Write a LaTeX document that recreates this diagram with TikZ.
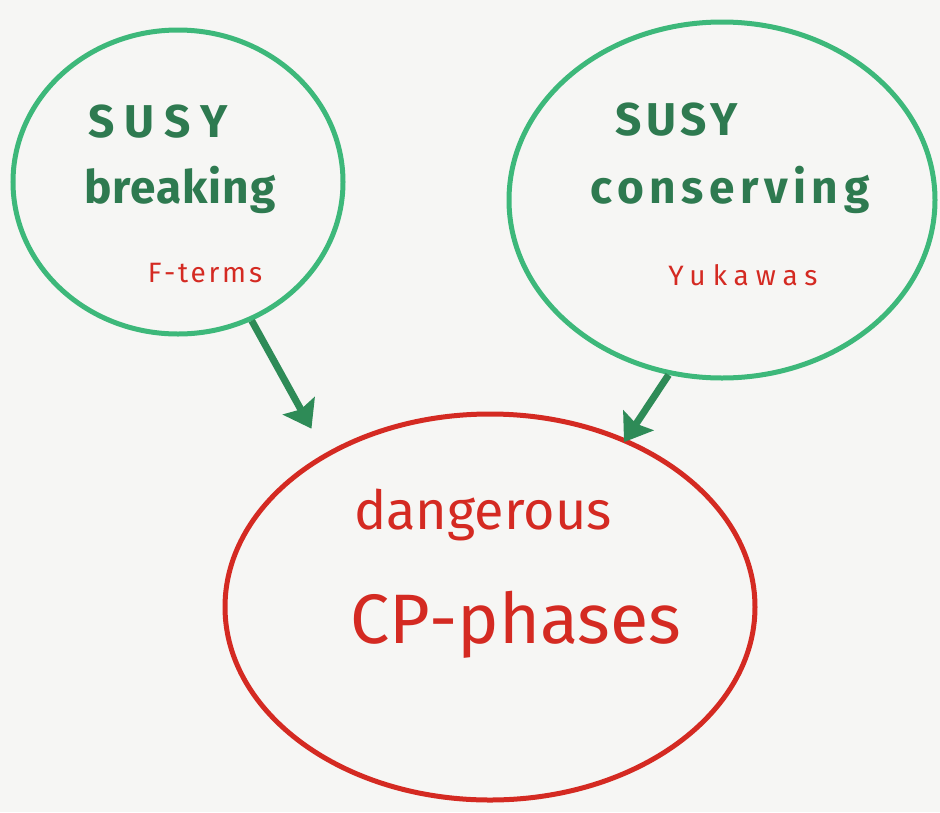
\documentclass[tikz,border=0pt]{standalone}
\usepackage{fontspec}
\setmainfont{Fira Sans}
\usetikzlibrary{shapes.geometric,arrows.meta}
\definecolor{bg}{HTML}{F6F6F4}
\definecolor{ringgreen}{HTML}{3DB87A}
\definecolor{txtgreen}{HTML}{2E7A50}
\definecolor{arrgreen}{HTML}{2E8B57}
\definecolor{myred}{HTML}{D42A22}
\tikzset{
  ring/.style={draw, shape=ellipse, line width=5pt, inner sep=0pt},
  greenring/.style={ring, draw=ringgreen},
  redring/.style={ring, draw=myred},
  gtext/.style={text=txtgreen, font=\fontsize{46}{46}\selectfont\bfseries, inner sep=0pt},
  smalltext/.style={text=myred, font=\fontsize{28}{28}\selectfont, inner sep=0pt},
  rtext/.style={text=myred, font=\fontsize{54}{54}\selectfont, inner sep=0pt},
  bigtext/.style={text=myred, font=\fontsize{70}{70}\selectfont, inner sep=0pt},
  conn/.style={draw=arrgreen, line width=7pt, -{Stealth[length=26pt,width=36pt,inset=4pt]}}
}
\begin{document}
\begin{tikzpicture}[x=1pt,y=-1pt]
\useasboundingbox[fill=bg] (0,0) rectangle (940,812);
\node[greenring, minimum width=330pt, minimum height=304pt] (L) at (178,182) {};
\node[greenring, minimum width=426pt, minimum height=356pt] (R) at (722,200) {};
\node[redring, minimum width=530pt, minimum height=386pt] (C) at (490,607) {};
\node[gtext] (l1) at (158,122) {\addfontfeatures{LetterSpace=22}SUSY};
\node[gtext] (l2) at (180,190) {\addfontfeatures{LetterSpace=2}breaking};
\node[smalltext] (l3) at (205,273) {\addfontfeatures{LetterSpace=10}F-terms};
\node[gtext] (r1) at (677,120) {\addfontfeatures{LetterSpace=10}SUSY};
\node[gtext] (r2) at (730,190) {\addfontfeatures{LetterSpace=12}conserving};
\node[smalltext] (r3) at (743,275) {\addfontfeatures{LetterSpace=25}Yukawas};
\node[rtext] (c1) at (483,515) {dangerous};
\node[bigtext] (c2) at (516,625) {CP-phases};
\draw[conn, shorten >=28pt] (L.-62) -- (C.137.5);
\draw[conn, shorten >=-4pt] (R.-107.4) -- (C.51.7);
\end{tikzpicture}
\end{document}
